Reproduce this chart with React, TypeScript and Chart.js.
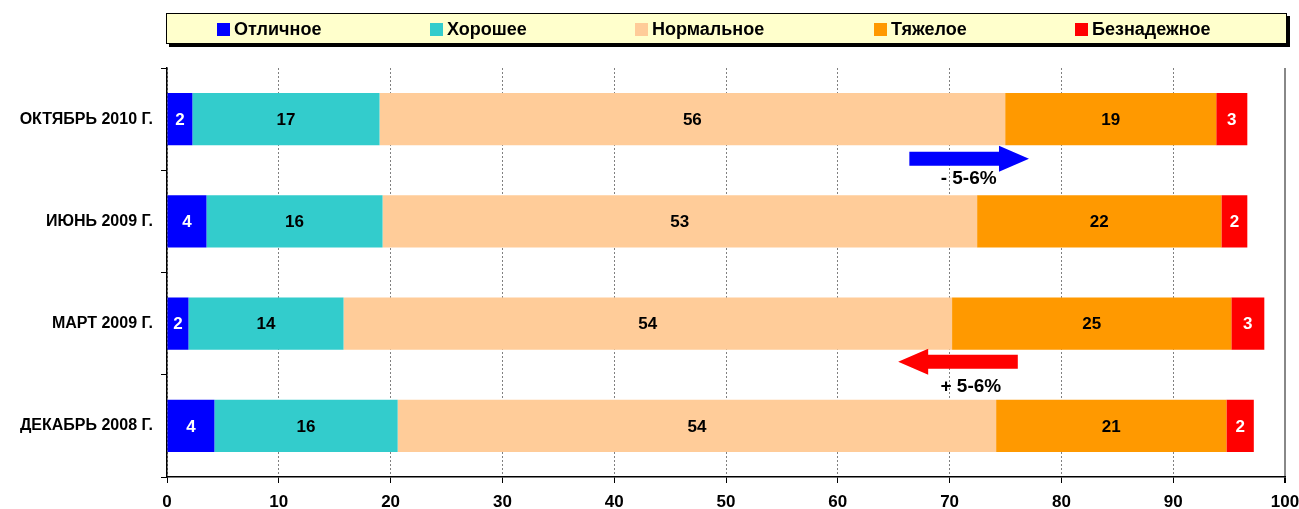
import React, { useEffect, useRef } from "react";
import { Chart, registerables } from "chart.js";

Chart.register(...registerables);

// ---- Data ----
const categories = ["ОКТЯБРЬ 2010 Г.", "ИЮНЬ 2009 Г.", "МАРТ 2009 Г.", "ДЕКАБРЬ 2008 Г."];
const seriesNames = ["Отличное", "Хорошее", "Нормальное", "Тяжелое", "Безнадежное"];
const excellent = [2.27, 3.53, 1.92, 4.24];
const good = [16.74, 15.75, 13.87, 16.39];
const normal = [55.96, 53.18, 54.43, 53.53];
const heavy = [18.88, 21.85, 24.98, 20.6];
const hopeless = [2.78, 2.32, 2.95, 2.45];
const xMin = 0;
const xMax = 100;
const xStep = 10;

// shift annotations (data coordinates: x values, y between categories)
const shiftTexts = ["- 5-6%", "+ 5-6%"];
const shiftFrom = [66.4, 76.1];
const shiftTo = [77.1, 65.4];
const shiftBetween = [0.5, 2.5];
const shiftTextX = [71.7, 71.9];

// ---- Styles ----
const seriesColors = ["#0000FF", "#33CCCC", "#FFCC99", "#FF9900", "#FF0000"];
const labelColors = ["#FFFFFF", "#000000", "#000000", "#000000", "#FFFFFF"];
const FONT = "'Liberation Sans', Arial, sans-serif";

const legendPlugin = {
  id: "boxLegend",
  beforeDraw(chart: any) {
    const { ctx, chartArea } = chart;
    const left = chartArea.left - 1;
    const right = chartArea.right + 2;
    const top = 13;
    const h = 31;
    ctx.save();
    ctx.fillStyle = "#000000";
    ctx.fillRect(left + 3, top + 3, right - left, h);
    ctx.fillStyle = "#FFFFCC";
    ctx.fillRect(left, top, right - left, h);
    ctx.strokeStyle = "#000000";
    ctx.lineWidth = 1;
    ctx.strokeRect(left + 0.5, top + 0.5, right - left - 1, h - 1);
    const offsets = [51, 264, 469, 708, 909];
    ctx.font = `bold 18px ${FONT}`;
    ctx.textBaseline = "middle";
    ctx.textAlign = "left";
    seriesNames.forEach((name, i) => {
      const x = left + offsets[i];
      ctx.fillStyle = seriesColors[i];
      ctx.fillRect(x, top + 10, 13, 13);
      ctx.fillStyle = "#000000";
      ctx.fillText(name, x + 17, top + h / 2 + 1.5);
    });
    ctx.restore();
  },
};

const valueLabelPlugin = {
  id: "valueLabels",
  afterDatasetsDraw(chart: any) {
    const { ctx } = chart;
    ctx.save();
    ctx.font = `bold 17px ${FONT}`;
    ctx.textAlign = "center";
    ctx.textBaseline = "middle";
    chart.data.datasets.forEach((ds: any, di: number) => {
      const meta = chart.getDatasetMeta(di);
      meta.data.forEach((el: any, i: number) => {
        const v = ds.data[i];
        ctx.fillStyle = labelColors[di];
        ctx.fillText(String(Math.round(v)), (el.x + el.base) / 2, el.y + 1);
      });
    });
    ctx.restore();
  },
};

const arrowPlugin = {
  id: "shiftArrows",
  afterDatasetsDraw(chart: any) {
    const { ctx, scales } = chart;
    const xs = scales.x;
    const ys = scales.y;
    const arrowOffset = [-11.5, -13];
    const textOffset = [9, 12];
    ctx.save();
    shiftTexts.forEach((t, i) => {
      const yb = ys.getPixelForValue(shiftBetween[i]);
      const yc = yb + arrowOffset[i];
      const x1 = xs.getPixelForValue(shiftFrom[i]);
      const x2 = xs.getPixelForValue(shiftTo[i]);
      const dir = x2 > x1 ? 1 : -1;
      const headLen = 30;
      const xh = x2 - dir * headLen;
      ctx.fillStyle = seriesColors[i === 0 ? 0 : 4];
      ctx.beginPath();
      ctx.moveTo(x1, yc - 7);
      ctx.lineTo(xh, yc - 7);
      ctx.lineTo(xh, yc - 13);
      ctx.lineTo(x2, yc);
      ctx.lineTo(xh, yc + 13);
      ctx.lineTo(xh, yc + 7);
      ctx.lineTo(x1, yc + 7);
      ctx.closePath();
      ctx.fill();
      ctx.fillStyle = "#000000";
      ctx.font = `bold 19px ${FONT}`;
      ctx.textAlign = "center";
      ctx.textBaseline = "middle";
      ctx.fillText(t, xs.getPixelForValue(shiftTextX[i]), yb + textOffset[i]);
    });
    ctx.restore();
  },
};

export default function App() {
  const ref = useRef<HTMLCanvasElement | null>(null);
  useEffect(() => {
    document.body.style.margin = "0";
    const canvas = ref.current;
    if (!canvas) return;
    const values = [excellent, good, normal, heavy, hopeless];
    const chart = new Chart(canvas, {
      type: "bar",
      data: {
        labels: categories,
        datasets: seriesNames.map((name, i) => ({
          label: name,
          data: values[i],
          backgroundColor: seriesColors[i],
          borderWidth: 0,
          categoryPercentage: 1,
          barPercentage: 0.51,
        })),
      },
      options: {
        indexAxis: "y",
        animation: false,
        responsive: false,
        layout: { padding: { top: 68, right: 14, left: 0, bottom: 0 } },
        plugins: { legend: { display: false }, tooltip: { enabled: false } },
        scales: {
          x: {
            stacked: true,
            min: xMin,
            max: xMax,
            ticks: {
              stepSize: xStep,
              color: "#000000",
              font: { family: FONT, size: 17, weight: "bold" },
              padding: 9,
            },
            grid: {
              color: (c: any) => (c.tick && c.tick.value === xMax ? "#888888" : "#808080"),
              lineWidth: (c: any) => (c.tick && c.tick.value === xMax ? 2 : 1),
              tickColor: "#000000",
              tickLength: 6,
            },
            border: {
              display: true,
              color: "#000000",
              width: 1.5,
              dash: (c: any) => (c.tick && c.tick.value === xMax ? [] : [2, 2]),
            },
            afterFit: (s: any) => {
              s.height = 32;
              s.paddingRight = 14;
              s.paddingLeft = 0;
            },
          },
          y: {
            stacked: true,
            ticks: {
              color: "#000000",
              font: { family: FONT, size: 16, weight: "bold" },
              padding: 8,
            },
            grid: {
              display: true,
              offset: true,
              drawOnChartArea: false,
              tickColor: "#000000",
              tickLength: 6,
            },
            border: { display: true, color: "#000000", width: 1.5 },
            afterFit: (s: any) => {
              s.width = 167;
            },
          },
        },
      },
      plugins: [legendPlugin, valueLabelPlugin, arrowPlugin],
    } as any);
    return () => chart.destroy();
  }, []);
  return <canvas ref={ref} width={1299} height={509} style={{ display: "block" }} />;
}
